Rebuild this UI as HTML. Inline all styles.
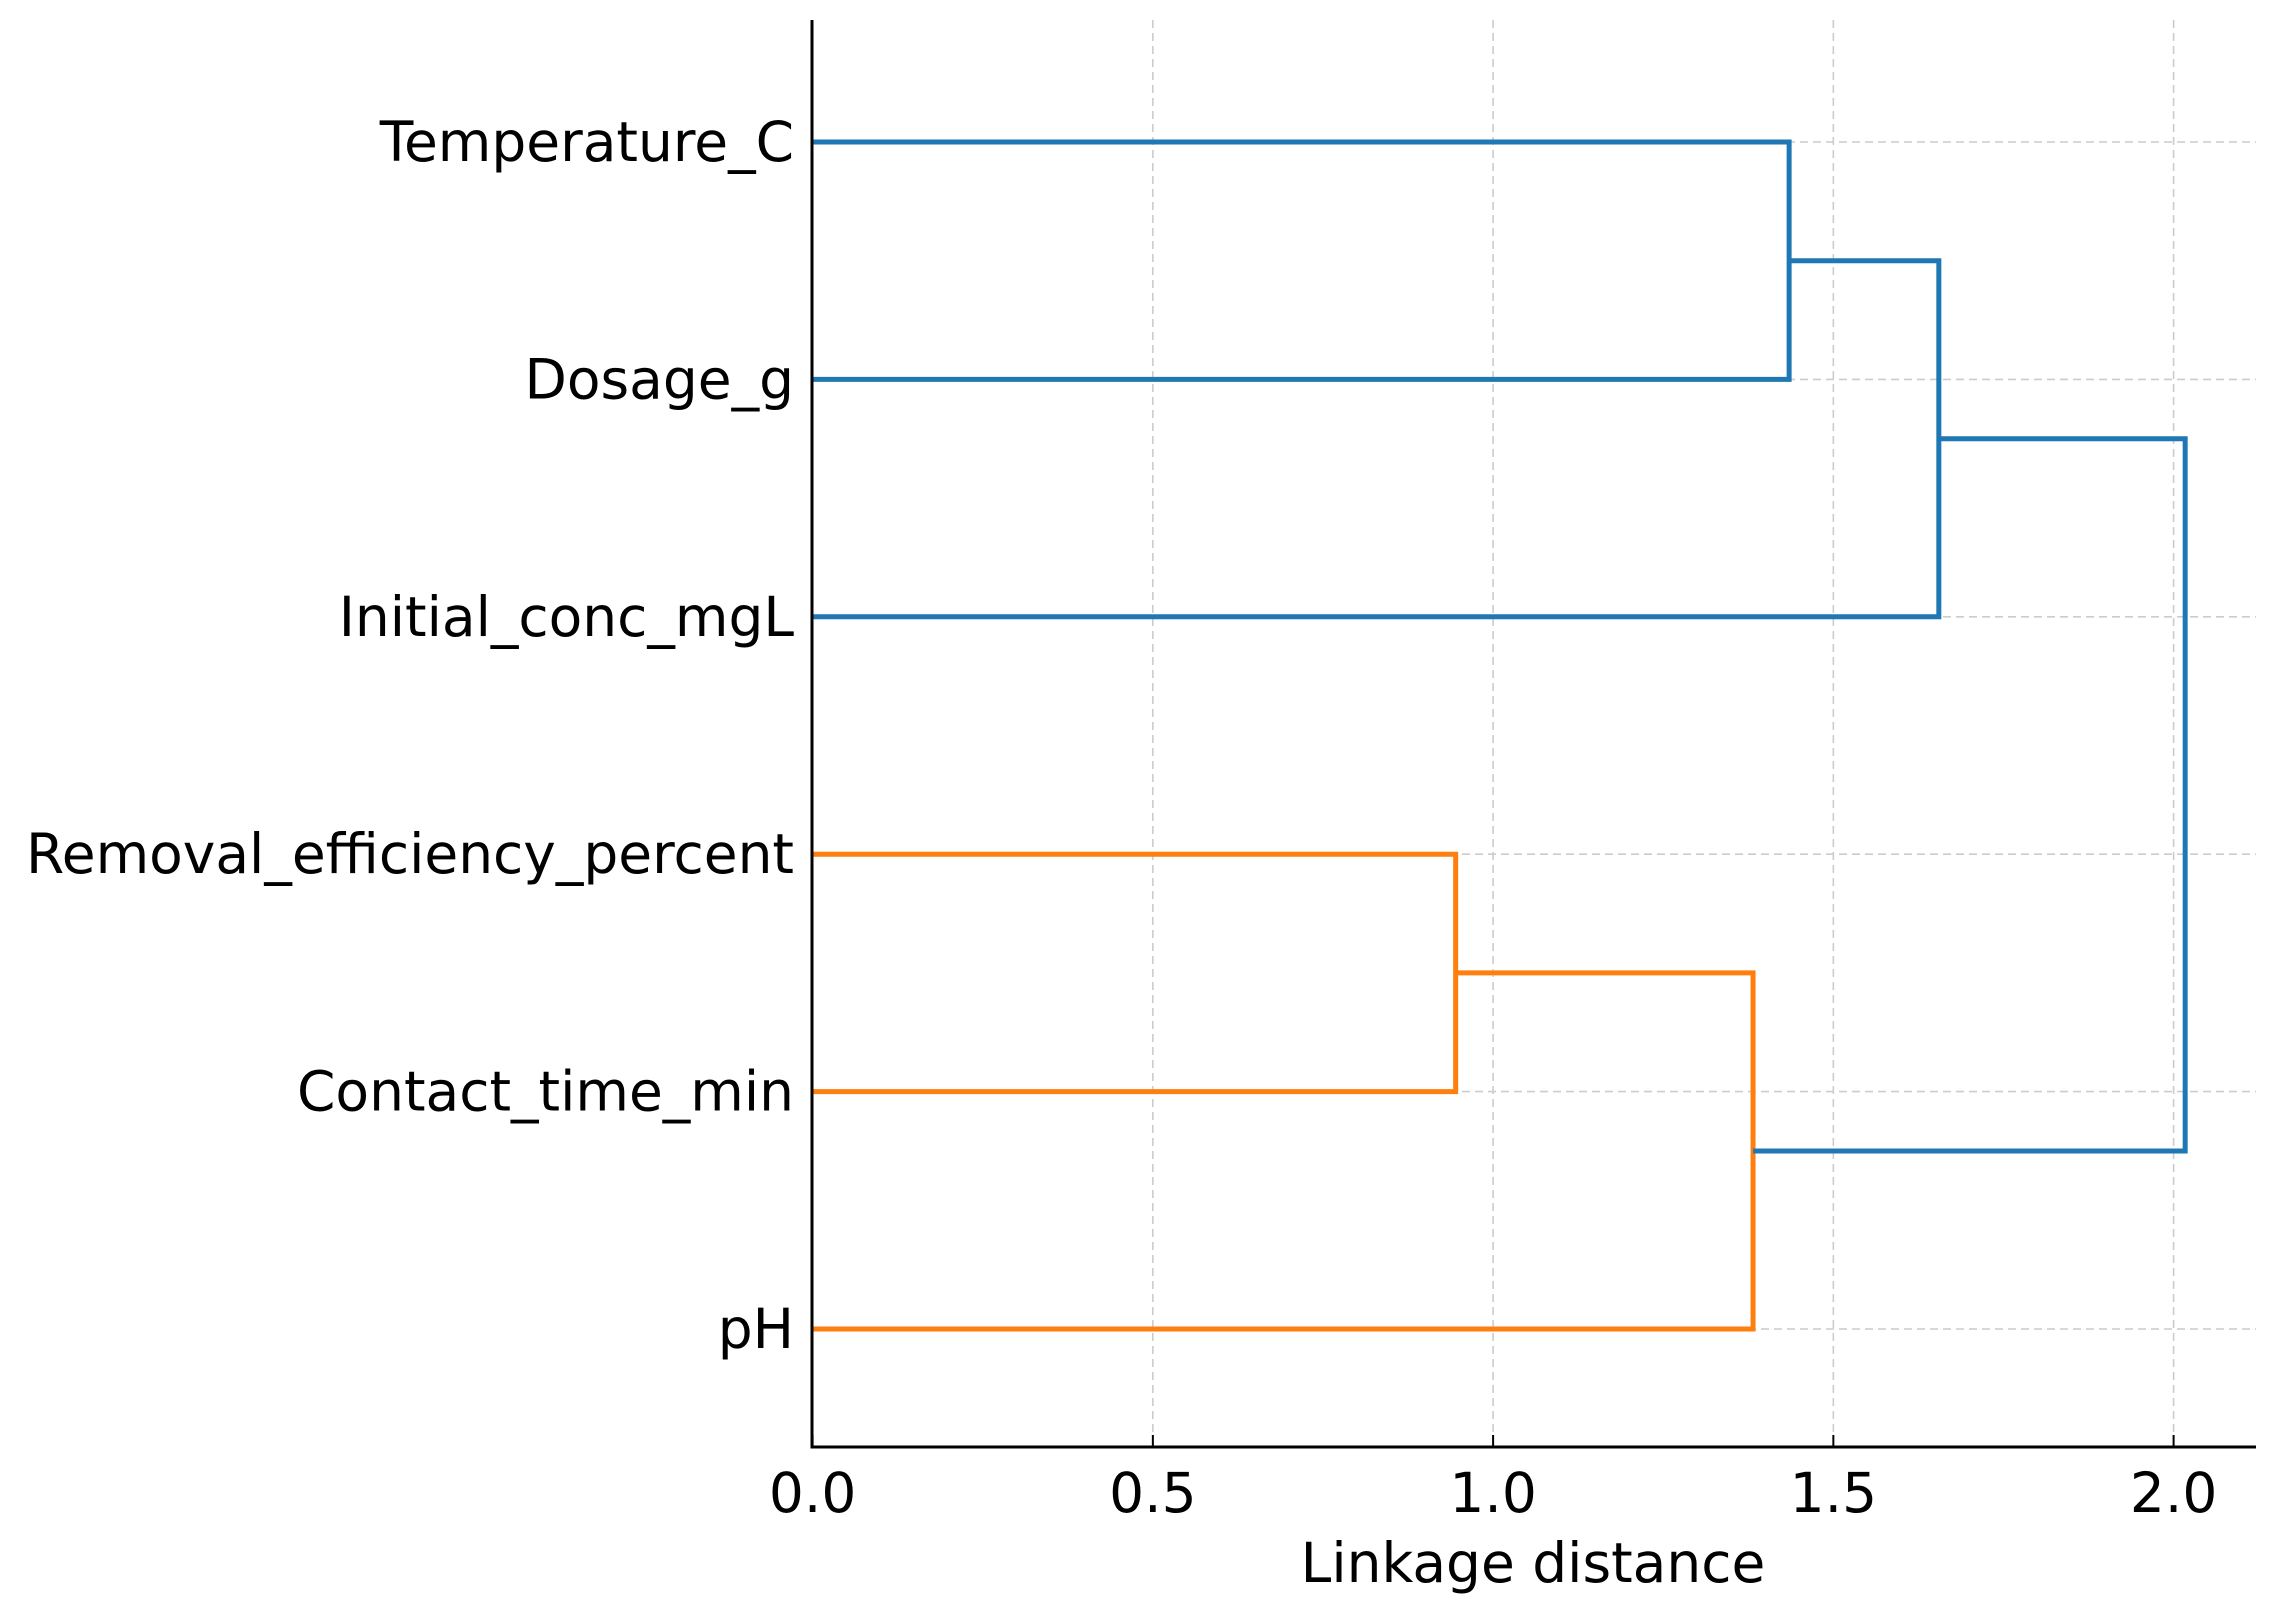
<!DOCTYPE html>
<html><head><meta charset="utf-8"><style>
html,body{margin:0;padding:0;background:#fff}
svg{display:block;font-family:"DejaVu Sans","Liberation Sans",sans-serif}
</style></head><body>
<svg id="chart" width="2275" height="1613" viewBox="0 0 2275 1613" xmlns="http://www.w3.org/2000/svg">
<g id="grid"></g>
<g id="links"></g>
<g id="axes"></g>
</svg>
<script>
const leaves = ["Temperature_C","Dosage_g","Initial_conc_mgL","Removal_efficiency_percent","Contact_time_min","pH"];
// merges: nodes 0-5 leaves, 6+ clusters in merge order
const mergeLeft = [0, 6, 3, 8, 7];
const mergeRight = [1, 2, 4, 5, 9];
const mergeHeight = [1.435, 1.655, 0.945, 1.382, 2.017];
const mergeColor = ["#1f77b4","#1f77b4","#ff7f0e","#ff7f0e","#1f77b4"];
const xTicks = [0, 0.5, 1.0, 1.5, 2.0];
const xTickLabels = ["0.0","0.5","1.0","1.5","2.0"];

const NS="http://www.w3.org/2000/svg";
const X0=812.6, XU=680.5, Y0=142, YS=237.4;
const AX_L=812, AX_R=2256, AX_T=20, AX_B=1447;
const sx=v=>X0+v*XU;
const sy=i=>Y0+i*YS;
function mk(tag,attrs,parent){const e=document.createElementNS(NS,tag);for(const k in attrs)e.setAttribute(k,attrs[k]);parent.appendChild(e);return e;}
const grid=document.getElementById('grid'), links=document.getElementById('links'), axes=document.getElementById('axes');

xTicks.forEach((t,i)=>{
  const l=mk('line',{x1:sx(t),x2:sx(t),y1:AX_T,y2:AX_B,stroke:'#cccccc','stroke-width':1.6,'stroke-dasharray':'8,5'},grid);
  
  
});
leaves.forEach((n,i)=>{
  const l=mk('line',{x1:AX_L,x2:AX_R,y1:sy(i),y2:sy(i),stroke:'#cccccc','stroke-width':1.6,'stroke-dasharray':'8,5'},grid);
  
  
});

const nodeX=[], nodeY=[];
leaves.forEach((n,i)=>{nodeX[i]=0;nodeY[i]=i;});
mergeHeight.forEach((h,k)=>{
  const a=mergeLeft[k], b=mergeRight[k], id=leaves.length+k;
  const xa=sx(nodeX[a]), xb=sx(nodeX[b]), ya=sy(nodeY[a]), yb=sy(nodeY[b]), xh=sx(h);
  const p=mk('path',{d:`M${xa},${ya}H${xh}V${yb}H${xb}`,fill:'none',stroke:mergeColor[k],'stroke-width':5},links);
  
  
  nodeX[id]=h; nodeY[id]=(nodeY[a]+nodeY[b])/2;
});

const la=mk('line',{x1:AX_L,x2:AX_L,y1:AX_T,y2:AX_B+1.5,stroke:'#000','stroke-width':3},axes);


const lb=mk('line',{x1:AX_L-1.5,x2:AX_R,y1:AX_B,y2:AX_B,stroke:'#000','stroke-width':3},axes);



xTicks.forEach((t,i)=>{
  const tk=mk('line',{x1:sx(t),x2:sx(t),y1:AX_B,y2:AX_B-12,stroke:'#000','stroke-width':2},axes);
  
  
  const tx=mk('text',{x:sx(t),y:1512,'text-anchor':'middle','font-size':55,fill:'#000'},axes);
  tx.textContent=xTickLabels[i];
  
  
});
leaves.forEach((n,i)=>{
  const tx=mk('text',{x:794,y:sy(i)+19,'text-anchor':'end','font-size':55,fill:'#000'},axes);
  tx.textContent=n;
  
  
});
const xt=mk('text',{x:1533,y:1582,'text-anchor':'middle','font-size':55,fill:'#000'},axes);
xt.textContent='Linkage distance';


</script>
</body></html>
